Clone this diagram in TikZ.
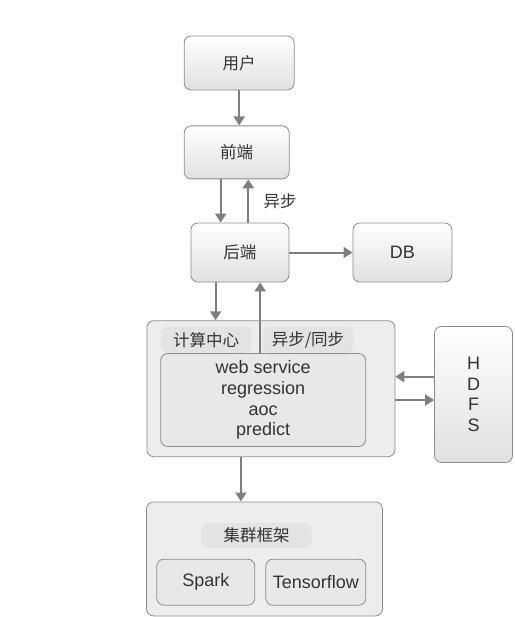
\documentclass[tikz,border=0pt]{standalone}
\usepackage{fontspec}
\setmainfont{Liberation Sans}
\newfontfamily\cjk{Noto Sans CJK SC}
\usetikzlibrary{positioning,arrows.meta}
\definecolor{linegray}{HTML}{7F7F7F}
\definecolor{textgray}{HTML}{333333}
\begin{document}
\begin{tikzpicture}[x=1pt,y=-1pt,
		box/.style={ % 渐变的圆角框
			draw=linegray!90, line width=0.8pt, rounded corners=7pt,
			top color=white, bottom color=black!12,
			inner sep=0pt, text=textgray,
			font=\fontsize{18}{20.7}\selectfont
		},
		group/.style={draw=linegray!90, line width=0.8pt, rounded corners=7pt,
			fill=black!7, inner sep=0pt},
		tag/.style={fill=black!11, rounded corners=7pt, inner sep=0pt,
			text=textgray, font=\fontsize{16.5}{20}\selectfont\cjk},
		arr/.style={draw=linegray, line width=2pt,
			-{Triangle[length=9pt,width=11pt]}, color=linegray}
		]
		\useasboundingbox (0,0) rectangle (514,617);

		%% 上半部分
		\node[box, minimum width=110pt, minimum height=54pt] (yh) at (239.2,63) {\cjk\fontsize{16.5}{20}\selectfont 用户};
		\node[box, minimum width=105pt, minimum height=53pt] (qd) at (236.7,152.4) {\cjk\fontsize{16.5}{20}\selectfont 前端};
		\node[box, minimum width=98pt, minimum height=59pt] (hd) at (239.9,252.5) {\cjk\fontsize{16.5}{20}\selectfont 后端};
		\node[box, minimum width=99pt, minimum height=59pt] (db) at (402.4,252.5) {DB};
		\node[text=textgray, font=\fontsize{16.5}{20}\selectfont\cjk] (yb) at (280,201.7) {异步};

		%% 计算中心
		\node[group, minimum width=248pt, minimum height=136pt] (calc) at (270.9,388.7) {};
		\node[tag, minimum width=91pt, minimum height=26pt] (calct) at (206.2,339.7) {计算中心};
		\node[tag, minimum width=90pt, minimum height=26pt] (sync) at (308,339.7) {异步/同步};
		\node[box, top color=black!9, bottom color=black!9, minimum width=205pt, minimum height=93pt, align=center] (inner) at (263.2,400)
			{web service\\regression\\aoc\\predict};
		\node[box, minimum width=78pt, minimum height=136pt, align=center] (hdfs) at (473.5,394.5) {H\\D\\F\\S};

		%% 集群框架
		\node[group, minimum width=236pt, minimum height=114pt] (cl) at (264.5,558.9) {};
		\node[tag, minimum width=110pt, minimum height=25pt] (clt) at (256.7,535.5) {集群框架};
		\node[box, top color=black!9, bottom color=black!9, minimum width=98pt, minimum height=46pt] (spark) at (205.8,582.2) {Spark};
		\node[box, top color=black!9, bottom color=black!9, minimum width=100pt, minimum height=46pt] (tf) at (315.8,582.2) {Tensorflow};

		% 连线
		\draw[arr] (yh.south) -- (yh.south |- qd.north);
		\draw[arr] ([xshift=-16pt]qd.south) -- ([xshift=-16pt]qd.south |- hd.north);
		\draw[arr] ([xshift=11.6pt]qd.south |- hd.north) -- ([xshift=11.6pt]qd.south);
		\draw[arr] (hd.east) -- (db.west);
		\draw[arr] ([xshift=-24.3pt]hd.south) -- ([xshift=-24.3pt]hd.south |- calc.north);
		\draw[arr] ([xshift=-3pt]inner.north) -- ([xshift=-3pt]inner.north |- hd.south);
		\draw[arr] ([yshift=17.8pt]hdfs.west) -- ([yshift=17.8pt]hdfs.west -| calc.east);
		\draw[arr] ([yshift=-5.5pt]hdfs.west -| calc.east) -- ([yshift=-5.5pt]hdfs.west);
		\draw[arr] ([xshift=-30pt]calc.south) -- ([xshift=-30pt]calc.south |- cl.north);
\end{tikzpicture}
\end{document}
